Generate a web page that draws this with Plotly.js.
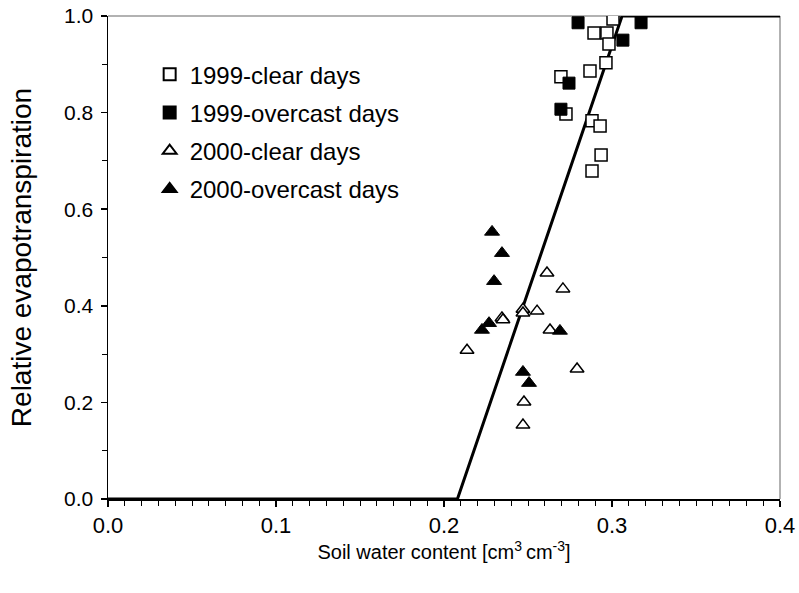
<!DOCTYPE html>
<html>
<head>
<meta charset="utf-8">
<script src="https://cdn.plot.ly/plotly-3.0.1.min.js"></script>
<style>html,body{margin:0;padding:0;background:#fff;}#chart{width:799px;height:593px;}</style>
</head>
<body>
<div id="chart"></div>
<script>
// 1999 clear days
const clear1999_x = [0.3006, 0.2893, 0.2970, 0.2982, 0.2964, 0.2869, 0.2696, 0.2726, 0.2881, 0.2929, 0.2935, 0.2881];
const clear1999_y = [0.994, 0.965, 0.965, 0.942, 0.903, 0.886, 0.874, 0.797, 0.783, 0.772, 0.712, 0.679];
// 1999 overcast days
const over1999_x = [0.2798, 0.3173, 0.3065, 0.2744, 0.2696];
const over1999_y = [0.986, 0.986, 0.950, 0.861, 0.807];
// 2000 clear days
const clear2000_x = [0.2613, 0.2708, 0.2470, 0.2470, 0.2554, 0.2345, 0.2351, 0.2631, 0.2137, 0.2792, 0.2476, 0.2470];
const clear2000_y = [0.468, 0.435, 0.393, 0.385, 0.389, 0.375, 0.371, 0.350, 0.308, 0.269, 0.201, 0.153];
// 2000 overcast days
const over2000_x = [0.2286, 0.2345, 0.2298, 0.2268, 0.2226, 0.2690, 0.2470, 0.2506];
const over2000_y = [0.553, 0.509, 0.451, 0.364, 0.350, 0.348, 0.263, 0.240];
// model line
const model_x = [0.0, 0.208, 0.306, 0.4];
const model_y = [0.0, 0.0, 1.0, 1.0];

const seriesNames = ['1999-clear days', '1999-overcast days', '2000-clear days', '2000-overcast days'];
const xTickVals = [0, 0.1, 0.2, 0.3, 0.4];
const xTickText = ['0.0', '0.1', '0.2', '0.3', '0.4'];
const yTickVals = [0, 0.2, 0.4, 0.6, 0.8, 1.0];
const yTickText = ['0.0', '0.2', '0.4', '0.6', '0.8', '1.0'];

const font = 'Arial, "Liberation Sans", sans-serif';

const traces = [
  {x: model_x, y: model_y, mode: 'lines', line: {color: '#000', width: 3}, showlegend: false, hoverinfo: 'skip', cliponaxis: false},
  {x: clear1999_x, y: clear1999_y, name: seriesNames[0], mode: 'markers', legendgroup: 'a',
   marker: {symbol: 'square', size: 12, color: '#fff', line: {color: '#000', width: 1.5}}},
  {x: over1999_x, y: over1999_y, name: seriesNames[1], mode: 'markers', legendgroup: 'b',
   marker: {symbol: 'square', size: 12, color: '#000', line: {color: '#000', width: 1}}},
  {x: clear2000_x, y: clear2000_y, name: seriesNames[2], mode: 'markers', legendgroup: 'c',
   marker: {symbol: 'triangle-up', size: 12, color: '#fff', line: {color: '#000', width: 1.5}}},
  {x: over2000_x, y: over2000_y, name: seriesNames[3], mode: 'markers', legendgroup: 'd',
   marker: {symbol: 'triangle-up', size: 13, color: '#000', line: {color: '#000', width: 1}}}
];

const layout = {
  width: 799, height: 593,
  margin: {l: 108, r: 19, t: 16, b: 94},
  paper_bgcolor: '#fff', plot_bgcolor: '#fff',
  font: {family: font, size: 24, color: '#000'},
  showlegend: true,
  legend: {x: 0.062, y: 0.925, xanchor: 'left', yanchor: 'top', bgcolor: 'rgba(0,0,0,0)',
           font: {family: font, size: 24, color: '#000'}, traceorder: 'grouped', tracegroupgap: 4,
           itemsizing: 'constant'},
  xaxis: {
    range: [0, 0.4], tickvals: xTickVals, ticktext: xTickText,
    showgrid: false, zeroline: false, showline: true, linecolor: '#000', linewidth: 1.5,
    ticks: 'outside', ticklen: 6, tickwidth: 1.5, tickcolor: '#000',
    minor: {dtick: 0.01, ticks: 'outside', ticklen: 5, tickwidth: 1, tickcolor: '#000', showgrid: false},
    tickfont: {family: font, size: 22}, ticklabelstandoff: 0,
    title: {text: 'Soil water content [cm<sup>3 </sup>cm<sup>-3</sup>]', font: {family: font, size: 20}, standoff: 6}
  },
  yaxis: {
    range: [0, 1.0], tickvals: yTickVals, ticktext: yTickText,
    showgrid: false, zeroline: false, showline: true, linecolor: '#000', linewidth: 1.5,
    ticks: 'outside', ticklen: 6, tickwidth: 1.5, tickcolor: '#000',
    minor: {dtick: 0.1, ticks: 'outside', ticklen: 5, tickwidth: 1, tickcolor: '#000', showgrid: false},
    tickfont: {family: font, size: 21}, ticklabelstandoff: 3,
    title: {text: 'Relative evapotranspiration', font: {family: font, size: 28}, standoff: 24}
  },
  shapes: [
    {type: 'line', xref: 'paper', yref: 'paper', x0: 0, x1: 1, y0: 1, y1: 1, line: {color: '#999', width: 1.5}, layer: 'below'},
    {type: 'line', xref: 'paper', yref: 'paper', x0: 1, x1: 1, y0: 0, y1: 1, line: {color: '#999', width: 1.5}, layer: 'below'}
  ]
};

Plotly.newPlot('chart', traces, layout, {displayModeBar: false, staticPlot: true});
</script>
</body>
</html>
